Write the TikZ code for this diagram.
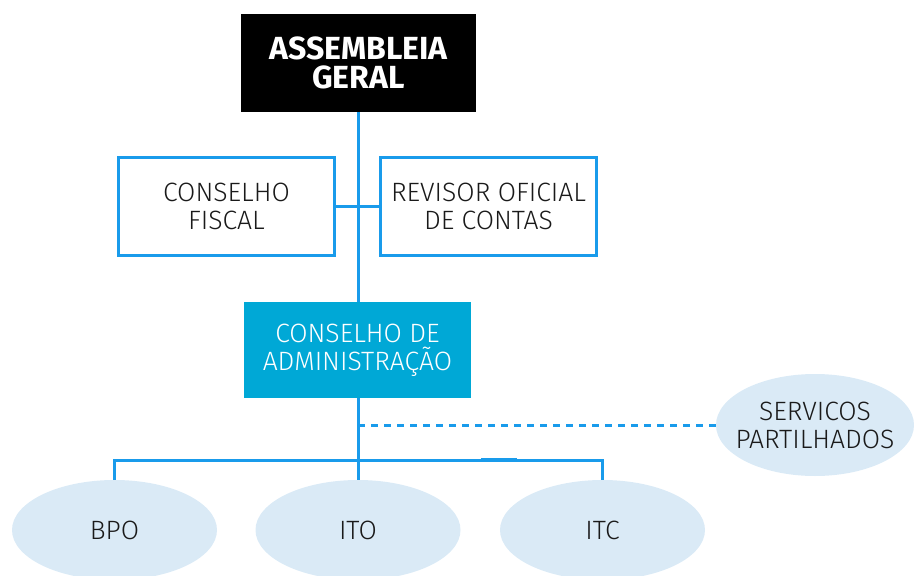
\documentclass[tikz,border=0pt]{standalone}
\usepackage{fontspec}
\setmainfont{Fira Sans}[UprightFont=* Light, BoldFont=* Bold]
\usetikzlibrary{shapes.geometric}
\definecolor{lineblue}{RGB}{25,155,235}
\definecolor{adminblue}{RGB}{0,168,214}
\definecolor{ellfill}{RGB}{218,234,246}
\definecolor{txt}{RGB}{26,26,26}
\tikzset{
  conn/.style={draw=lineblue, line width=3pt},
  outlinebox/.style={draw=lineblue, line width=3pt, fill=white, minimum width=216pt, minimum height=98pt, align=center, text=txt, font=\fontsize{26.5}{28}\selectfont, inner sep=0pt},
  unit/.style={ellipse, fill=ellfill, minimum width=205pt, minimum height=100pt, inner sep=0pt, align=center, text=txt, font=\fontsize{26.5}{28}\selectfont}
}
\begin{document}
\begin{tikzpicture}[x=1pt,y=-1pt]
\useasboundingbox (0,0) rectangle (914,576);
\clip (0,0) rectangle (914,576);
\node[fill=black, minimum width=235pt, minimum height=98pt, inner sep=0pt, align=center, text=white, font=\fontsize{32}{29}\selectfont\bfseries] (ag) at (358.5,63) {ASSEMBLEIA\\GERAL};
\node[outlinebox] (cf) at (226.5,206.5) {CONSELHO\\FISCAL};
\node[outlinebox] (roc) at (488.5,206.5) {REVISOR OFICIAL\\DE CONTAS};
\node[fill=adminblue, minimum width=227pt, minimum height=96pt, inner sep=0pt, align=center, text=white, font=\fontsize{26.5}{28}\selectfont] (ca) at (357.5,350) {CONSELHO DE\\ADMINISTRAÇÃO};
\node[unit, minimum width=198pt, minimum height=102pt, inner xsep=-25pt, inner ysep=-10pt] (sp) at (815,425) {SERVICOS\\PARTILHADOS};
\node[unit] (bpo) at (114.5,530) {BPO};
\node[unit] (ito) at (358,530) {ITO};
\node[unit] (itc) at (602.5,530) {ITC};
\coordinate (j) at (358,460);
\draw[conn] (ag.south -| j) -- (ca.north -| j);
\draw[conn] (cf.east) -- (roc.west);
\draw[conn] (ca.south -| j) -- (ito.north);
\draw[conn] (bpo.north) |- (j) -| (itc.north);
\draw[conn, line width=4.5pt] (481,460) -- (517,460);
\draw[lineblue, line width=3pt, dash pattern=on 7pt off 6pt] (j |- sp.west) -- (sp.west);
\end{tikzpicture}
\end{document}
